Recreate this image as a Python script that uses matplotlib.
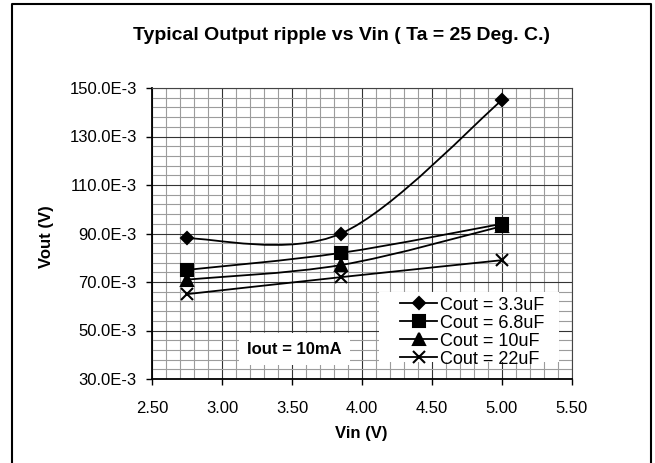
import numpy as np
import matplotlib
matplotlib.use("Agg")
import matplotlib.pyplot as plt
from matplotlib.path import Path
from matplotlib.patches import PathPatch, Rectangle
from matplotlib.lines import Line2D
from matplotlib.ticker import MultipleLocator, FuncFormatter

plt.rcParams['font.family'] = ['Liberation Sans', 'DejaVu Sans']

# data (Vout in mV)
vin = [2.75, 3.85, 5.00]
series_labels = ["Cout = 3.3uF", "Cout = 6.8uF", "Cout = 10uF", "Cout = 22uF"]
cout_3u3 = [88, 90, 145]
cout_6u8 = [75, 82, 94]
cout_10u = [71, 77, 93]
cout_22u = [65, 72, 79]
markers = ['D', 's', '^', 'x']
marker_sizes = [6.5, 8, 8, 8]


def smooth_path(xs, ys):
    # excel-like smoothed line: cubic bezier, catmull-rom style control points
    pts = np.column_stack([xs, ys]).astype(float)
    n = len(pts)
    verts = [pts[0]]
    codes = [Path.MOVETO]
    for i in range(n - 1):
        p_prev = pts[i - 1] if i > 0 else pts[i]
        p_next = pts[i + 2] if i + 2 < n else pts[i + 1]
        c1 = pts[i] + (pts[i + 1] - p_prev) / 6.0
        c2 = pts[i + 1] - (p_next - pts[i]) / 6.0
        verts += [c1, c2, pts[i + 1]]
        codes += [Path.CURVE4] * 3
    return Path(verts, codes)


fig = plt.figure(figsize=(6.55, 4.63), dpi=100)
ax = fig.add_axes([152 / 655, 1 - 379 / 463, 420 / 655, 291 / 463])

ax.set_xlim(2.5, 5.5)
ax.set_ylim(30, 150)
ax.xaxis.set_major_locator(MultipleLocator(0.5))
ax.xaxis.set_minor_locator(MultipleLocator(0.1))
ax.yaxis.set_major_locator(MultipleLocator(20, offset=10))
ax.yaxis.set_minor_locator(MultipleLocator(4, offset=2))
ax.xaxis.set_major_formatter(FuncFormatter(lambda v, p: f"{v:.2f}"))
ax.yaxis.set_major_formatter(FuncFormatter(lambda v, p: f"{v:.1f}E-3"))

ax.grid(which='minor', color='#9c9c9c', lw=0.8)
ax.grid(which='major', color='#333333', lw=0.8)
ax.set_axisbelow(True)
ax.tick_params(which='major', direction='out', length=4, width=1, labelsize=12)
ax.tick_params(axis='y', pad=7)
ax.tick_params(axis='x', pad=12)
ax.tick_params(which='minor', length=0)
for s in ['top', 'right']:
    ax.spines[s].set_color('#444444')
    ax.spines[s].set_linewidth(0.8)
for s in ['left', 'bottom']:
    ax.spines[s].set_linewidth(1.3)

all_series = [cout_3u3, cout_6u8, cout_10u, cout_22u]
handles = []
for ys, m, ms, lab in zip(all_series, markers, marker_sizes, series_labels):
    ax.add_patch(PathPatch(smooth_path(vin, ys), fill=False, lw=1.3, edgecolor='black', zorder=3))
    ax.plot(vin, ys, ls='none', marker=m, ms=ms, color='black', mew=1.5, zorder=4)
    handles.append(Line2D([], [], color='black', lw=1.3, marker=m, ms=ms, mew=1.5, label=lab))

# white legend area, then a frameless legend on top of it
ax.add_patch(Rectangle((0.5405, 0.058), 0.4285, 0.241, transform=ax.transAxes,
                       facecolor='white', edgecolor='none', zorder=5))
leg = ax.legend(handles=handles, loc='center left', bbox_to_anchor=(0.5905, 0.161),
                fontsize=13, frameon=False, handlelength=2.05, handletextpad=0.17,
                labelspacing=0.05, borderpad=0, borderaxespad=0)
leg.set_zorder(6)

ax.text(0.34, 0.103, "Iout = 10mA", transform=ax.transAxes, ha='center', va='center',
        fontsize=12, fontweight='bold', zorder=5,
        bbox=dict(facecolor='white', edgecolor='none', pad=6))

fig.text(341 / 655, 1 - 35 / 463, "Typical Output ripple vs Vin ( Ta = 25 Deg. C.)",
         ha='center', va='center', fontsize=14, fontweight='bold')
ax.set_xlabel("Vin (V)", fontsize=12, fontweight='bold')
ax.set_ylabel("Vout (V)", fontsize=12, fontweight='bold')
ax.xaxis.set_label_coords(0.498, -0.1615)
ax.yaxis.set_label_coords(-0.233, 0.49)

# outer frame
fx0, fx1, fy1 = 12 / 655, 651 / 655, 1 - 4 / 463
fig.add_artist(Line2D([fx0, fx0, fx1, fx1], [0, fy1, fy1, 0], transform=fig.transFigure,
                      color='black', lw=1.5))

fig.savefig("out.png", dpi=100)
